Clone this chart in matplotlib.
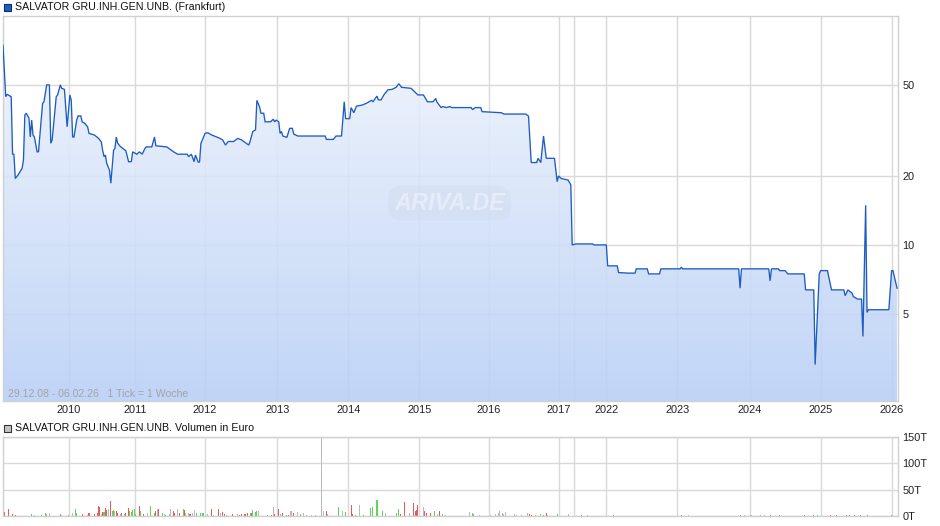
import numpy as np
import matplotlib
matplotlib.use('Agg')
import matplotlib.pyplot as plt
from matplotlib.colors import LinearSegmentedColormap
from matplotlib.patches import Rectangle
from matplotlib.ticker import FixedLocator, NullLocator, FixedFormatter

plt.rcParams['font.family'] = ['Liberation Sans', 'DejaVu Sans']

title_price = "SALVATOR GRU.INH.GEN.UNB. (Frankfurt)"
title_volume = "SALVATOR GRU.INH.GEN.UNB. Volumen in Euro"
range_note = "29.12.08 - 06.02.26   1 Tick = 1 Woche"
watermark = "ARIVA.DE"

# x axis: one tick = one trading week (index)
year_ticks = [48, 97, 148, 201, 253, 305, 356, 407, 418, 442, 494, 547, 599, 651]
year_labels = ['2010', '2011', '2012', '2013', '2014', '2015', '2016', '2017', '',
               '2022', '2023', '2024', '2025', '2026']
n_weeks = 655.7

price_ticks = [5, 10, 20, 50]
price_labels = ['5', '10', '20', '50']

price_weeks = [0, 2, 3, 6, 7, 8, 9, 11, 14, 15, 16, 17, 19, 20, 21, 22, 23, 25, 26, 29,
               30, 32, 34, 35, 36, 39, 40, 42, 43, 45, 47, 49, 50, 51, 52, 54, 55, 57, 58, 60,
               62, 63, 67, 70, 72, 73, 74, 75, 76, 78, 79, 81, 82, 83, 84, 86, 90, 92, 94, 95,
               98, 100, 102, 104, 105, 109, 111, 112, 120, 125, 128, 135, 136, 138, 140, 141, 143, 144, 145, 146,
               148, 150, 153, 159, 161, 163, 165, 169, 172, 175, 180, 181, 183, 185, 186, 188, 189, 191, 192, 196,
               198, 199, 200, 202, 203, 204, 205, 208, 210, 212, 213, 216, 236, 237, 242, 244, 248, 250, 251, 254,
               255, 257, 259, 263, 266, 270, 271, 274, 275, 277, 279, 282, 285, 288, 290, 292, 299, 301, 304, 308,
               311, 315, 317, 318, 321, 322, 325, 327, 329, 343, 344, 346, 350, 351, 365, 367, 383, 385, 387, 391,
               392, 394, 396, 398, 404, 406, 407, 409, 414, 416, 417, 420, 432, 433, 442, 443, 450, 451, 458, 463,
               464, 472, 473, 481, 482, 496, 497, 498, 539, 540, 541, 561, 562, 563, 568, 569, 573, 575, 587, 588,
               594, 595, 598, 599, 604, 606, 607, 616, 617, 619, 622, 623, 626, 629, 630, 632, 633, 634, 649, 651,
               652, 655]
price_values = [74.6, 44.4, 45.5, 44.4, 24.9, 24.9, 19.5, 20.2, 21.6, 23.5, 36.9, 37.6, 35.8, 29.6, 35.1, 30.2, 29.6, 25.5, 25.5, 41.5,
                42.2, 50.0, 50.0, 27.8, 28.7, 44.4, 45.2, 50.0, 48.3, 47.8, 32.8, 45.2, 42.8, 29.6, 29.6, 35.1, 36.6, 36.6, 34.5, 33.9,
                32.8, 30.7, 30.2, 29.2, 28.2, 25.9, 24.3, 24.7, 22.7, 21.2, 18.6, 25.9, 26.4, 29.6, 27.8, 26.9, 25.8, 23.1, 23.1, 25.5,
                24.9, 25.5, 24.9, 26.4, 26.8, 26.8, 29.6, 27.1, 26.8, 25.5, 24.9, 24.9, 24.3, 24.9, 23.1, 24.7, 23.0, 23.0, 27.8, 28.7,
                30.7, 30.9, 30.2, 29.2, 28.7, 27.3, 28.3, 28.3, 29.2, 28.7, 27.3, 28.3, 31.3, 31.8, 42.8, 40.0, 37.6, 37.6, 34.5, 34.5,
                35.4, 34.5, 35.1, 34.5, 30.7, 31.3, 29.9, 29.5, 32.3, 32.3, 30.5, 29.9, 29.9, 28.9, 28.9, 29.9, 29.9, 42.2, 35.6, 35.6,
                39.8, 37.8, 40.4, 40.8, 41.5, 42.8, 42.2, 44.7, 43.0, 43.0, 45.2, 47.6, 47.8, 48.8, 50.6, 48.8, 48.3, 47.0, 45.2, 45.2,
                42.2, 42.2, 43.6, 42.0, 39.8, 40.2, 39.8, 40.2, 39.8, 39.8, 39.0, 39.8, 39.8, 38.2, 37.8, 37.3, 37.3, 36.5, 22.9, 22.9,
                23.9, 22.9, 29.9, 23.9, 23.9, 18.9, 20.0, 19.5, 19.2, 18.3, 10.0, 10.1, 10.1, 10.0, 10.0, 8.1, 8.1, 7.57, 7.53, 7.53,
                7.86, 7.86, 7.47, 7.47, 7.86, 7.86, 7.99, 7.86, 7.86, 6.47, 7.86, 7.86, 6.97, 7.86, 7.86, 7.72, 7.72, 7.47, 7.47, 6.36,
                6.36, 3.0, 7.47, 7.72, 7.72, 6.8, 6.36, 6.36, 6.0, 6.36, 6.16, 5.95, 5.80, 5.80, 3.98, 14.9, 5.07, 5.21, 5.21, 7.72,
                7.72, 6.47]

# weekly volume in Euro; direction: r = down, g = up, n = unchanged
vol_weeks = [1, 4, 7, 9, 21, 23, 28, 31, 32, 34, 42, 43, 48, 51, 53, 54, 58, 62, 63, 67,
             69, 70, 71, 72, 73, 74, 75, 76, 77, 79, 80, 81, 82, 83, 84, 86, 87, 89, 90, 92,
             93, 94, 95, 96, 97, 100, 101, 103, 106, 108, 111, 112, 113, 114, 117, 118, 119, 122, 123, 125,
             126, 128, 129, 132, 133, 134, 136, 137, 139, 140, 142, 145, 146, 147, 150, 153, 154, 158, 159, 161,
             162, 164, 168, 172, 173, 175, 177, 178, 179, 181, 182, 183, 185, 186, 187, 194, 197, 198, 199, 202,
             203, 205, 208, 209, 211, 213, 216, 218, 220, 222, 226, 229, 233, 235, 237, 238, 246, 249, 251, 255,
             256, 258, 261, 264, 269, 271, 274, 278, 280, 288, 290, 291, 294, 298, 301, 302, 303, 304, 308, 309,
             310, 313, 316, 318, 320, 322, 324, 342, 344, 345, 349, 357, 361, 363, 364, 366, 367, 368, 375, 376,
             380, 384, 386, 387, 390, 394, 396, 398, 399, 406, 414, 424, 428, 447, 453, 483, 497, 502, 507, 540,
             543, 548, 555, 558, 562, 569, 576, 587, 594, 597, 606, 611, 618, 620, 624, 628, 633, 651]
vol_thousands = [8.2, 12.8, 3.2, 1.9, 3.2, 1.3, 1.9, 6.4, 4.5, 6.4, 3.2, 2.6, 2.6, 5.1, 12.8, 6.4, 3.2, 2.6, 6.4, 3.2,
                 5.1, 18.6, 16.6, 3.8, 8.3, 7.7, 16.0, 11.5, 12.8, 28.2, 10.2, 11.5, 9.0, 9.0, 6.4, 3.2, 5.1, 3.8, 6.4, 16.0,
                 9.6, 7.7, 11.5, 12.8, 3.8, 18.6, 9.6, 3.2, 6.4, 19.8, 5.1, 9.0, 12.8, 14.1, 5.1, 3.2, 2.6, 3.2, 12.8, 10.2,
                 5.1, 12.8, 5.1, 12.8, 11.5, 5.1, 5.1, 3.8, 6.4, 11.5, 5.1, 6.4, 5.1, 6.4, 3.2, 14.1, 2.6, 14.1, 6.4, 7.7,
                 3.2, 2.6, 3.8, 3.8, 2.6, 3.8, 3.2, 3.8, 5.1, 6.4, 5.1, 11.5, 7.7, 9.0, 10.2, 2.6, 2.6, 17.9, 3.2, 12.8,
                 3.8, 5.1, 2.6, 2.6, 9.0, 5.1, 7.7, 3.2, 6.4, 2.6, 2.6, 2.6, 200.0, 9.0, 9.0, 3.8, 17.9, 9.0, 7.7, 20.5,
                 3.2, 2.6, 20.5, 2.6, 15.4, 16.6, 30.0, 9.0, 5.1, 6.4, 12.8, 3.2, 26.2, 6.4, 24.3, 10.2, 11.5, 20.5, 17.9, 10.2,
                 5.1, 5.1, 9.0, 3.2, 9.0, 3.2, 2.6, 7.7, 6.4, 3.8, 1.3, 1.3, 3.8, 6.4, 10.2, 5.1, 3.8, 7.7, 3.8, 1.3,
                 2.6, 5.1, 3.8, 1.9, 1.9, 3.8, 2.6, 6.4, 1.9, 3.2, 3.8, 2.6, 1.9, 1.3, 0.6, 0.6, 1.3, 1.3, 0.6, 2.6,
                 1.3, 1.3, 1.9, 1.3, 2.6, 2.6, 0.6, 1.3, 1.3, 1.3, 1.3, 1.3, 1.3, 1.3, 1.3, 1.3, 1.3, 1.3]
vol_dir = list("rrrrgnggnngngnggrnrr"
               "rrrnrgrrnrggnrrnrnrr"
               "gggggrgrnggrnrgngnnr"
               "rnrgrnnrnnggggnrnrnr"
               "rnrnrrrrrgrgggngrnrr"
               "nrgrnrngnnnnnnrngngr"
               "rgngggggnggrrnrrrrnr"
               "rrgnrgnnggnnnnnnnnnn"
               "nnrrnngrngnrnrnnrnnr"
               "nnnnrrnrrgrrrrrrgg")
vol_ticks = [0, 50000, 100000, 150000]
vol_labels = ['0T', '50T', '100T', '150T']

dir_colors = {'r': '#e45b5b', 'g': '#5fd35a', 'n': '#b9b9b9'}

W, H = 940, 526
fig = plt.figure(figsize=(W / 100, H / 100), dpi=100)
ax = fig.add_axes([3 / W, 1 - 401 / H, 895 / W, 385 / H])
axv = fig.add_axes([3 / W, 1 - 516 / H, 895 / W, 79 / H])

grid_c = '#d9d9d9'
spine_c = '#d0d0d0'
line_c = '#1d5cc0'
lab_fs = 7.9

# ---- price panel ----
ax.set_yscale('log')
ylo, yhi = 2.08, 100
ax.set_xlim(0, n_weeks)
ax.set_ylim(ylo, yhi)
ax.set_autoscale_on(False)
ax.yaxis.set_major_locator(FixedLocator(price_ticks))
ax.yaxis.set_major_formatter(FixedFormatter(price_labels))
ax.yaxis.set_minor_locator(NullLocator())
ax.xaxis.set_major_locator(FixedLocator(year_ticks))
ax.xaxis.set_major_formatter(FixedFormatter(year_labels))
ax.xaxis.set_minor_locator(NullLocator())
ax.yaxis.tick_right()
ax.tick_params(axis='y', length=0, pad=3, labelsize=lab_fs, colors='#222222')
ax.tick_params(axis='x', length=0, pad=3, labelsize=lab_fs, colors='#222222')
ax.set_axisbelow(True)
ax.grid(True, color=grid_c, lw=1.0, zorder=0.5)
for s in ax.spines.values():
    s.set_color(spine_c)
    s.set_linewidth(1.0)

fb = ax.fill_between(price_weeks, price_values, ylo, facecolor='none', edgecolor='none')
clip = fb.get_paths()[0]
cmap = LinearSegmentedColormap.from_list('g', ['#b8cff6', '#f2f6fd'])
grad = np.linspace(0, 1, 256).reshape(-1, 1)
im = ax.imshow(grad, extent=[0, 1, 0, 1], transform=ax.transAxes, aspect='auto',
               cmap=cmap, origin='lower', zorder=1, alpha=0.88, interpolation='bilinear')
im.set_clip_path(clip, transform=ax.transData)
ax.plot(price_weeks, price_values, color=line_c, lw=0.95, zorder=3, solid_joinstyle='miter')
ax.set_xlim(0, n_weeks)
ax.set_ylim(ylo, yhi)

ax.text(0.499, 0.514, watermark, transform=ax.transAxes, ha='center', va='center',
        fontsize=17, fontweight='bold', style='italic', color='white', alpha=0.4, zorder=2,
        bbox=dict(boxstyle='round,pad=0.25,rounding_size=0.6', facecolor='#c9d5e8', edgecolor='none', alpha=0.25))
ax.text(5 / 895, 7 / 385, range_note, transform=ax.transAxes, ha='left', va='center',
        fontsize=7.6, color='#a3a3a3', zorder=4)

# ---- volume panel ----
axv.set_xlim(0, n_weeks)
axv.set_ylim(0, 150000)
axv.set_autoscale_on(False)
axv.bar(vol_weeks, [v * 1000 for v in vol_thousands], width=0.75,
        color=[dir_colors[d] for d in vol_dir], zorder=2, linewidth=0)
axv.yaxis.set_major_locator(FixedLocator(vol_ticks))
axv.yaxis.set_major_formatter(FixedFormatter(vol_labels))
axv.yaxis.set_minor_locator(NullLocator())
axv.xaxis.set_major_locator(FixedLocator(year_ticks))
axv.xaxis.set_major_formatter(FixedFormatter([''] * len(year_ticks)))
axv.yaxis.tick_right()
axv.tick_params(axis='y', length=0, pad=3, labelsize=lab_fs, colors='#222222')
axv.tick_params(axis='x', length=0)
axv.set_axisbelow(True)
axv.grid(True, color=grid_c, lw=1.0, zorder=0.5)
for s in axv.spines.values():
    s.set_color(spine_c)
    s.set_linewidth(1.0)

# ---- titles with legend squares ----
fig.add_artist(Rectangle((4 / W, 1 - 11 / H), 7 / W, 7 / H, transform=fig.transFigure,
                         facecolor='#1f5fc2', edgecolor='#0b2a66', lw=0.8))
fig.text(15 / W, 1 - 6.5 / H, title_price, ha='left', va='center', fontsize=7.65, color='#111111')
fig.add_artist(Rectangle((4 / W, 1 - 432 / H), 7 / W, 7 / H, transform=fig.transFigure,
                         facecolor='#c4c4c4', edgecolor='#333333', lw=0.8))
fig.text(15 / W, 1 - 428 / H, title_volume, ha='left', va='center', fontsize=7.65, color='#111111')

fig.savefig('out.png', dpi=100)
